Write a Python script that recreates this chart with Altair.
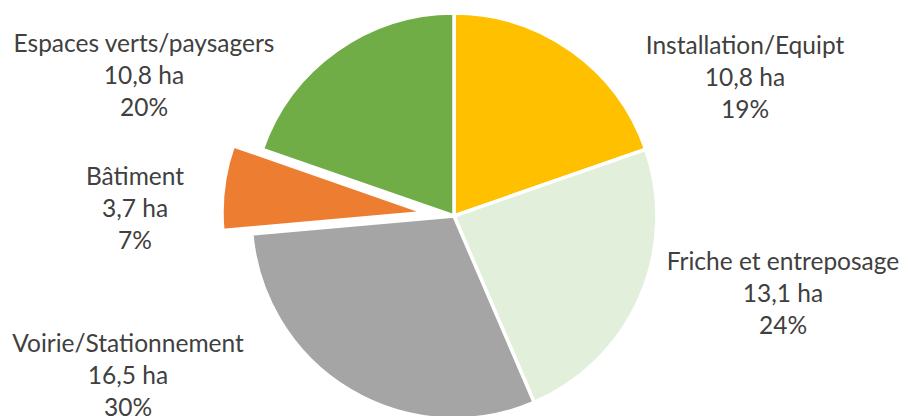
import altair as alt
import pandas as pd

categories = ["Installation/Equipt", "Friche et entreposage", "Voirie/Stationnement", "Bâtiment", "Espaces verts/paysagers"]
values = [10.8, 13.1, 16.5, 3.7, 10.8]
percents = ["19%", "24%", "30%", "7%", "20%"]
colors = ["#FFC000", "#E2EFDA", "#A5A5A5", "#ED7D31", "#70AD47"]
exploded = "Bâtiment"

# label anchor positions (view pixels, first line centre)
label_x = [737, 775, 120, 127, 136]
label_y = [39, 255, 337, 170, 37]

W, H = 893, 420
CX, CY, R = 446, 208, 203
EX_DX, EX_DY = -29, -3.5

df = pd.DataFrame({
    "cat": categories,
    "value": values,
    "order": list(range(len(categories))),
    "label": [f"{c}\n{str(v).replace('.', ',')} ha\n{p}" for c, v, p in zip(categories, values, percents)],
    "lx": label_x,
    "ly": label_y,
})

color_scale = alt.Scale(domain=categories, range=colors)

base = alt.Chart(df)

pie = base.mark_arc(outerRadius=R, stroke="white", strokeWidth=3.5, x=CX, y=CY).encode(
    theta=alt.Theta("value:Q", stack=True),
    order=alt.Order("order:Q"),
    color=alt.Color("cat:N", scale=color_scale, legend=None),
    opacity=alt.condition(alt.datum.cat == exploded, alt.value(0), alt.value(1)),
)

pie_ex = base.mark_arc(outerRadius=R, stroke="white", strokeWidth=3.5, x=CX + EX_DX, y=CY + EX_DY).encode(
    theta=alt.Theta("value:Q", stack=True),
    order=alt.Order("order:Q"),
    color=alt.Color("cat:N", scale=color_scale, legend=None),
    opacity=alt.condition(alt.datum.cat == exploded, alt.value(1), alt.value(0)),
)

labels = base.mark_text(
    font="Lato", fontSize=24.5, color="#404040", lineBreak="\n", lineHeight=32,
    align="center", baseline="middle",
).encode(
    x=alt.X("lx:Q", scale=None),
    y=alt.Y("ly:Q", scale=None),
    text="label:N",
)

chart = alt.layer(pie, pie_ex, labels).properties(
    width=W, height=H, autosize=alt.AutoSizeParams(type="none"), padding=0
).configure_view(stroke=None)

chart.save("out.html", embed_options={"renderer": "svg", "actions": False})
